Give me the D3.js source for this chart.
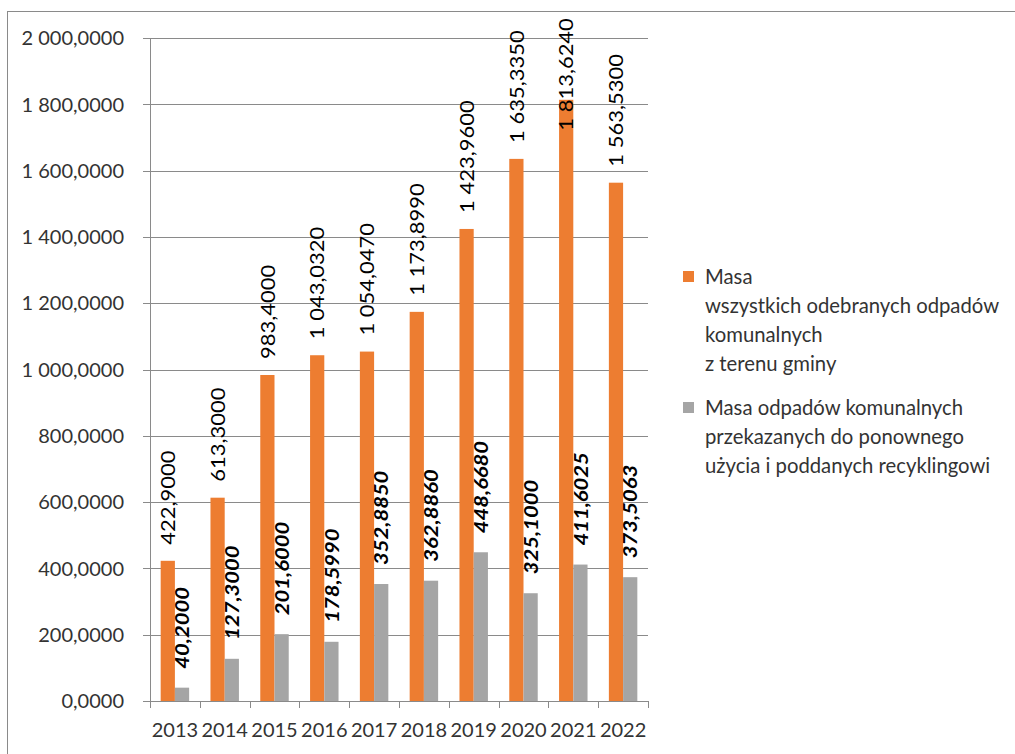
<!DOCTYPE html>
<html>
<head>
<meta charset="utf-8">
<script src="https://cdn.jsdelivr.net/npm/d3@7/dist/d3.min.js"></script>
<style>
  html, body { margin: 0; padding: 0; background: #fff; }
  svg { display: block; }
  text { font-family: Lato, "Open Sans", sans-serif; }
</style>
</head>
<body>
<svg id="chart" width="1015" height="754"></svg>
<script>
const years = ["2013","2014","2015","2016","2017","2018","2019","2020","2021","2022"];
const seriesAll = [422.9, 613.3, 983.4, 1043.032, 1054.047, 1173.899, 1423.96, 1635.335, 1813.624, 1563.53];
const seriesRecycled = [40.2, 127.3, 201.6, 178.599, 352.885, 362.886, 448.668, 325.1, 411.6025, 373.5063];
const yTicks = [0, 200, 400, 600, 800, 1000, 1200, 1400, 1600, 1800, 2000];
const legendAll = ["Masa", "wszystkich odebranych odpadów", "komunalnych", "z terenu gminy"];
const legendRecycled = ["Masa odpadów komunalnych", "przekazanych do ponownego", "użycia i poddanych recyklingowi"];

const ORANGE = "#ED7D31", GRAY = "#A5A5A5", LINE = "#8a8a8a", TXT = "#333333";

const loc = d3.formatLocale({decimal: ",", thousands: " ", grouping: [3], currency: ["", ""]});
const fmt = loc.format(",.4f");

const svg = d3.select("#chart");

// chart frame
svg.append("line").attr("x1", 7).attr("y1", 11.5).attr("x2", 1015).attr("y2", 11.5).attr("stroke", LINE);
svg.append("line").attr("x1", 7.5).attr("y1", 11).attr("x2", 7.5).attr("y2", 754).attr("stroke", LINE);

const x = d3.scaleBand().domain(years).range([150, 648]).paddingInner(0).paddingOuter(0);
const y = d3.scaleLinear().domain([0, 2000]).range([701, 38]);
const bw = x.bandwidth();
const barW = bw / 3.5;

// gridlines
svg.append("g").selectAll("line").data(yTicks).join("line")
  .attr("x1", 143).attr("x2", 648)
  .attr("y1", d => Math.round(y(d)) + 0.5).attr("y2", d => Math.round(y(d)) + 0.5)
  .attr("stroke", LINE).attr("stroke-width", 1);

// y axis line
svg.append("line").attr("x1", 150.5).attr("x2", 150.5).attr("y1", y(2000)).attr("y2", y(0))
  .attr("stroke", LINE);

// y labels
svg.append("g").selectAll("text").data(yTicks).join("text")
  .attr("x", 124).attr("y", d => y(d)).attr("dy", "0.36em")
  .attr("text-anchor", "end").attr("font-size", 20).attr("fill", TXT)
  .text(d => fmt(d));

// x ticks
const tickPos = years.map(d => x(d)).concat([x.range()[1]]);
svg.append("g").selectAll("line").data(tickPos).join("line")
  .attr("x1", d => Math.round(d) + 0.5).attr("x2", d => Math.round(d) + 0.5)
  .attr("y1", y(0)).attr("y2", y(0) + 7).attr("stroke", LINE);

// x labels
svg.append("g").selectAll("text").data(years).join("text")
  .attr("x", d => x(d) + bw / 2).attr("y", 737)
  .attr("text-anchor", "middle").attr("font-size", 20).attr("fill", TXT)
  .text(d => d);

// bars
const gBars = svg.append("g");
gBars.selectAll("rect.a").data(years).join("rect").attr("class", "a")
  .attr("x", (d) => x(d) + 0.75 * barW).attr("width", barW)
  .attr("y", (d, i) => y(seriesAll[i])).attr("height", (d, i) => y(0) - y(seriesAll[i]))
  .attr("fill", ORANGE);
gBars.selectAll("rect.b").data(years).join("rect").attr("class", "b")
  .attr("x", (d) => x(d) + 1.75 * barW).attr("width", barW)
  .attr("y", (d, i) => y(seriesRecycled[i])).attr("height", (d, i) => y(0) - y(seriesRecycled[i]))
  .attr("fill", GRAY);

// data labels (rotated)
function addLabels(values, offset, gap, italicBold) {
  const g = svg.append("g");
  values.forEach((v, i) => {
    const cx = x(years[i]) + offset * barW + barW / 2;
    const t = g.append("text")
      .attr("font-size", 22)
      .attr("fill", "#000")
      .attr("font-weight", italicBold ? "bold" : "normal")
      .attr("font-style", italicBold ? "italic" : "normal")
      .attr("dy", "0.36em")
      .text(fmt(v));
    const len = t.node().getComputedTextLength();
    let start = y(v) - gap;
    if (start - len < 18) start = 18 + len;
    t.attr("transform", `translate(${cx},${start}) rotate(-90) scale(1,0.9)`);
  });
}
addLabels(seriesAll, 0.75, 16, false);
addLabels(seriesRecycled, 1.75, 19, true);

// legend
const leg = svg.append("g");
leg.append("rect").attr("x", 683).attr("y", 271).attr("width", 11).attr("height", 11).attr("fill", ORANGE);
leg.append("rect").attr("x", 683).attr("y", 402).attr("width", 11).attr("height", 11).attr("fill", GRAY);
leg.selectAll("text.a").data(legendAll).join("text").attr("class", "a")
  .attr("x", 705).attr("y", (d, i) => 284 + i * 29)
  .attr("font-size", 20.3).attr("fill", TXT).text(d => d);
leg.selectAll("text.b").data(legendRecycled).join("text").attr("class", "b")
  .attr("x", 705).attr("y", (d, i) => 415 + i * 29)
  .attr("font-size", 20.3).attr("fill", TXT).text(d => d);
</script>
</body>
</html>
